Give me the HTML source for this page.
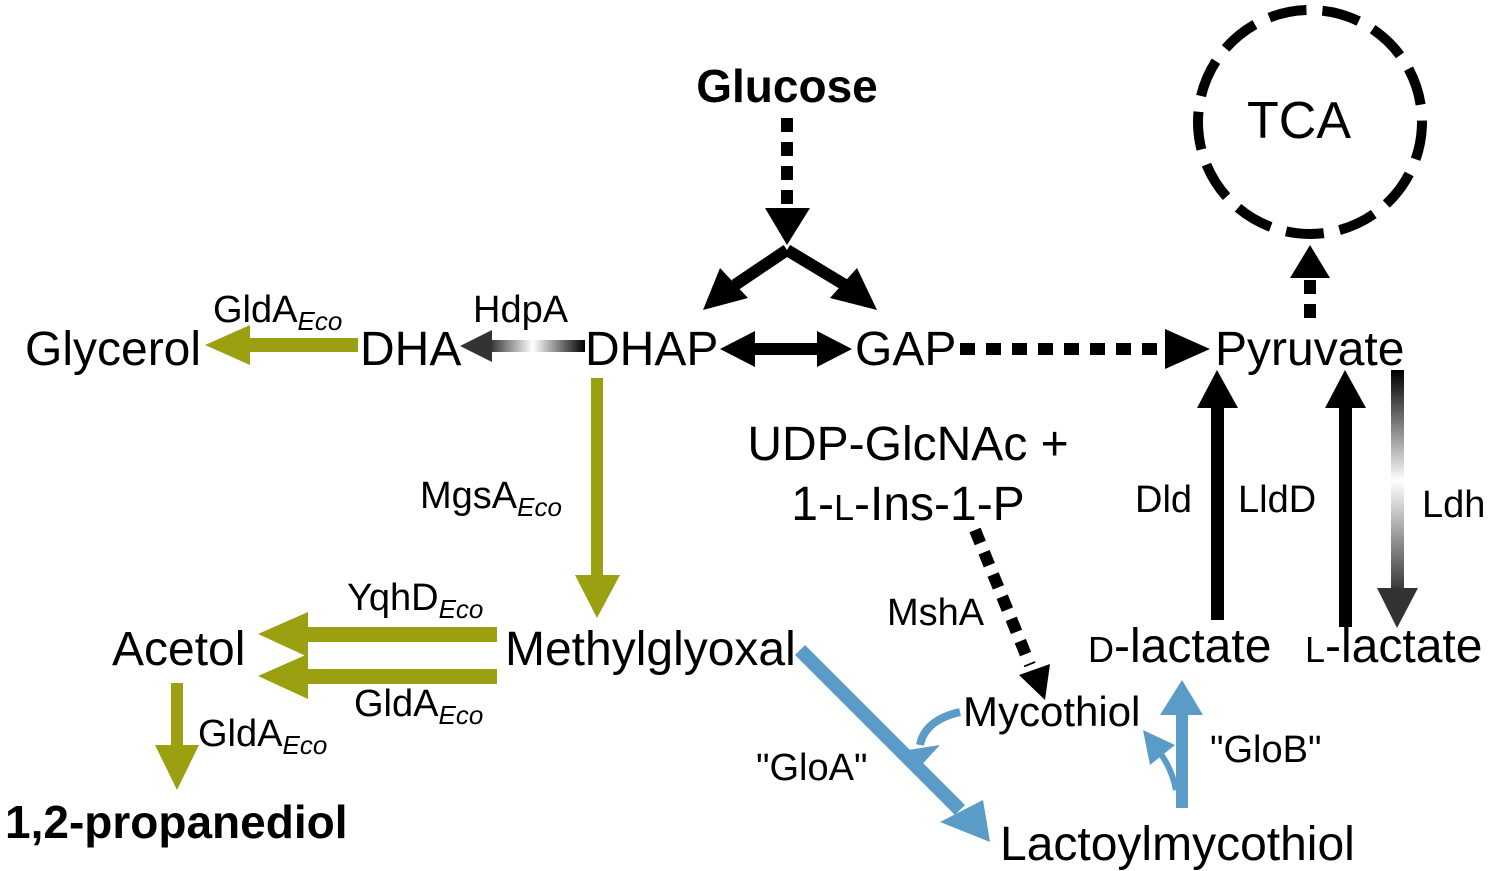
<!DOCTYPE html>
<html><head><meta charset="utf-8"><style>body{margin:0;background:#fff}svg{display:block}text{font-family:"Liberation Sans",Arial,sans-serif}</style></head><body>
<svg width="1489" height="871" viewBox="0 0 1489 871" xmlns="http://www.w3.org/2000/svg">
<defs>
<linearGradient id="gh" x1="0" x2="1" y1="0" y2="0"><stop offset="0" stop-color="#333"/><stop offset="0.45" stop-color="#fff"/><stop offset="1" stop-color="#000"/></linearGradient>
<linearGradient id="gv" x1="0" x2="0" y1="0" y2="1"><stop offset="0" stop-color="#000"/><stop offset="0.5" stop-color="#fff"/><stop offset="1" stop-color="#333"/></linearGradient>
</defs>
<g fill="#000" font-size="48">
<text x="787" y="102" font-weight="bold" text-anchor="middle" font-size="46">Glucose</text>
<text x="1299" y="138" text-anchor="middle" font-size="52">TCA</text>
<text x="25" y="365">Glycerol</text>
<text x="360" y="365">DHA</text>
<text x="585" y="365">DHAP</text>
<text x="855" y="365">GAP</text>
<text x="1215" y="365">Pyruvate</text>
<text x="908" y="460" text-anchor="middle">UDP-GlcNAc +</text>
<text x="908" y="520" text-anchor="middle">1-<tspan font-size="36">L</tspan>-Ins-1-P</text>
<text x="112" y="665">Acetol</text>
<text x="505" y="665">Methylglyoxal</text>
<text x="1088" y="662"><tspan font-size="36">D</tspan>-lactate</text>
<text x="1305" y="662"><tspan font-size="36">L</tspan>-lactate</text>
<text x="963" y="726" font-size="42">Mycothiol</text>
<text x="1000" y="860">Lactoylmycothiol</text>
<text x="5" y="838" font-weight="bold" font-size="46">1,2-propanediol</text>
</g>
<g fill="#000" font-size="38">
<text x="213" y="322">GldA<tspan font-size="26" font-style="italic" dy="8">Eco</tspan></text>
<text x="473" y="322">HdpA</text>
<text x="420" y="508">MgsA<tspan font-size="26" font-style="italic" dy="8">Eco</tspan></text>
<text x="347" y="610">YqhD<tspan font-size="26" font-style="italic" dy="8">Eco</tspan></text>
<text x="354" y="716">GldA<tspan font-size="26" font-style="italic" dy="8">Eco</tspan></text>
<text x="198" y="746">GldA<tspan font-size="26" font-style="italic" dy="8">Eco</tspan></text>
<text x="887" y="625">MshA</text>
<text x="756" y="780">"GloA"</text>
<text x="1210" y="762">"GloB"</text>
<text x="1135" y="512">Dld</text>
<text x="1238" y="512">LldD</text>
<text x="1422" y="517">Ldh</text>
</g>
<circle cx="1310" cy="122" r="112" fill="none" stroke="#000" stroke-width="10" stroke-dasharray="38 16"/>
<line x1="787" y1="118" x2="787" y2="210" stroke="#000" stroke-width="12" stroke-dasharray="14 10"/>
<polygon points="765,208 810,208 787,245" fill="#000"/>
<path d="M787 250 L735 285" stroke="#000" stroke-width="12"/>
<polygon points="703,310 720,268 748,298" fill="#000"/>
<path d="M787 250 L845 285" stroke="#000" stroke-width="12"/>
<polygon points="877,310 830,298 857,268" fill="#000"/>
<line x1="750" y1="349" x2="820" y2="349" stroke="#000" stroke-width="12"/>
<polygon points="720,349 755,331 755,367" fill="#000"/>
<polygon points="852,349 817,331 817,367" fill="#000"/>
<line x1="960" y1="349" x2="1165" y2="349" stroke="#000" stroke-width="12" stroke-dasharray="15 11"/>
<polygon points="1165,329 1165,369 1210,349" fill="#000"/>
<line x1="1310" y1="318" x2="1310" y2="275" stroke="#000" stroke-width="12" stroke-dasharray="14 10"/>
<polygon points="1290,278 1330,278 1310,245" fill="#000"/>
<g fill="#9aa010">
<rect x="248" y="338" width="110" height="14"/><polygon points="205,345 250,325 250,365"/>
<rect x="591" y="378" width="12" height="200"/><polygon points="575,575 620,575 597,618"/>
<rect x="305" y="627" width="192" height="15"/><polygon points="258,634 308,612 308,657"/>
<rect x="305" y="669" width="192" height="15"/><polygon points="258,676 308,654 308,699"/>
<rect x="171" y="683" width="12" height="65"/><polygon points="155,745 199,745 177,790"/>
</g>
<rect x="490" y="340" width="95" height="12" fill="url(#gh)"/>
<polygon points="460,346 492,330 492,362" fill="#333"/>
<rect x="1211" y="405" width="13" height="215" fill="#000"/>
<polygon points="1197,408 1238,408 1217,370" fill="#000"/>
<rect x="1339" y="405" width="13" height="222" fill="#000"/>
<polygon points="1325,408 1366,408 1345,370" fill="#000"/>
<rect x="1391" y="370" width="13" height="222" fill="url(#gv)"/>
<polygon points="1377,588 1418,588 1397,628" fill="#333"/>
<line x1="975" y1="530" x2="1030" y2="665" stroke="#000" stroke-width="12" stroke-dasharray="14 10"/>
<polygon points="1019,675 1050,664 1045,700" fill="#000"/>
<g fill="#5b9bc8">
<polygon points="795,655 805,645 965,805 955,815"/>
<polygon points="940,822 983,800 990,842"/>
<path d="M960 712 Q925 720 920 745" stroke="#5b9bc8" stroke-width="8" fill="none"/>
<polygon points="908,750 940,745 915,772"/>
<rect x="1176" y="712" width="12" height="96"/>
<polygon points="1160,715 1203,715 1182,680"/>
<path d="M1176 790 Q1170 760 1150 742" stroke="#5b9bc8" stroke-width="6" fill="none"/>
<polygon points="1143,730 1175,745 1150,765"/>
</g>
</svg>
</body></html>
